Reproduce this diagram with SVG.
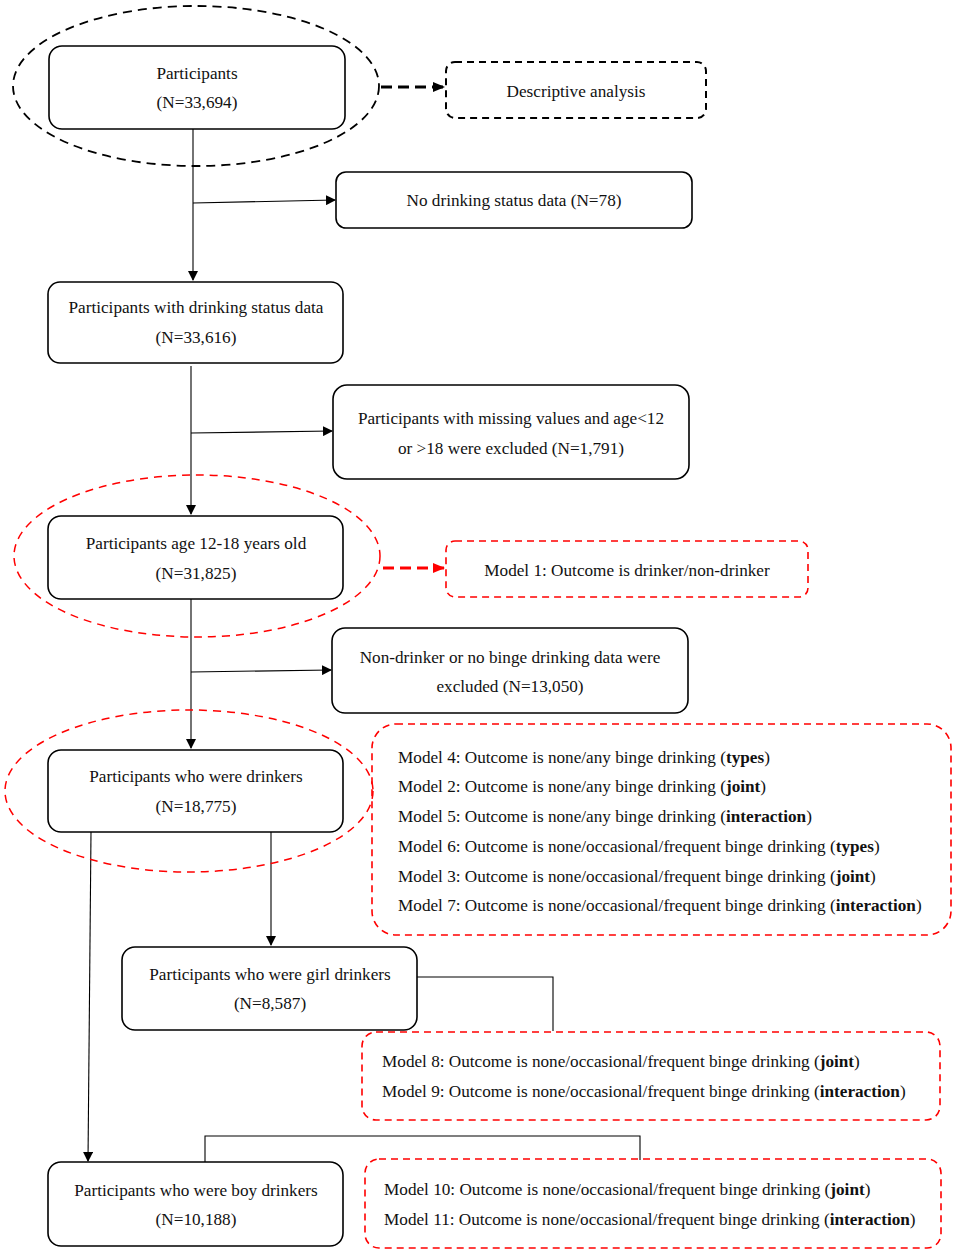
<svg xmlns="http://www.w3.org/2000/svg" width="957" height="1253" viewBox="0 0 957 1253">
<defs>
<marker id="ab" markerWidth="10" markerHeight="10" refX="9" refY="5" orient="auto" markerUnits="userSpaceOnUse"><path d="M0,0 L10,5 L0,10 z" fill="#000"/></marker>
<marker id="ar" markerWidth="12" markerHeight="10" refX="11" refY="5" orient="auto" markerUnits="userSpaceOnUse"><path d="M0,0 L12,5 L0,10 z" fill="#f00"/></marker>
<marker id="ak" markerWidth="12" markerHeight="10" refX="11" refY="5" orient="auto" markerUnits="userSpaceOnUse"><path d="M0,0 L12,5 L0,10 z" fill="#000"/></marker>
</defs>
<style>
text{font-family:"Liberation Serif","Times New Roman",serif;font-size:17.2px;fill:#111;}
.c{text-anchor:middle;}
.box{fill:#fff;stroke:#000;stroke-width:1.6;}
.dbox{fill:none;stroke:#000;stroke-width:2;stroke-dasharray:7,5;}
.rbox{fill:none;stroke:#f00;stroke-width:1.6;stroke-dasharray:7,5;}
.ell{fill:none;stroke:#000;stroke-width:1.8;stroke-dasharray:9,6;}
.rell{fill:none;stroke:#f00;stroke-width:1.5;stroke-dasharray:8,6;}
.ln{fill:none;stroke:#000;stroke-width:1.1;}
.b{font-weight:bold;}
</style>
<g id="connectors">
<line class="ln" x1="193" y1="129" x2="193" y2="280" marker-end="url(#ab)"/>
<line class="ln" x1="193" y1="203" x2="335" y2="200" marker-end="url(#ab)"/>
<line class="ln" x1="191" y1="366" x2="191" y2="514" marker-end="url(#ab)"/>
<line class="ln" x1="191" y1="433" x2="332" y2="431" marker-end="url(#ab)"/>
<line class="ln" x1="191" y1="599" x2="191" y2="748" marker-end="url(#ab)"/>
<line class="ln" x1="191" y1="672" x2="331" y2="670" marker-end="url(#ab)"/>
<line class="ln" x1="91" y1="832" x2="88" y2="1161" marker-end="url(#ab)"/>
<line class="ln" x1="271" y1="832" x2="271" y2="945" marker-end="url(#ab)"/>
<polyline class="ln" points="417,977 553,977 553,1031"/>
<polyline class="ln" points="205,1162 205,1136 640,1136 640,1160"/>
<line x1="381" y1="87" x2="444" y2="87" stroke="#000" stroke-width="2.8" stroke-dasharray="11,6" marker-end="url(#ak)"/>
<line x1="383" y1="568" x2="444" y2="568" stroke="#f00" stroke-width="2.8" stroke-dasharray="11,6" marker-end="url(#ar)"/>
</g>
<g id="ellipse1"><ellipse class="ell" cx="196" cy="86" rx="183" ry="80"/></g>
<g id="n1"><rect class="box" x="49" y="46" width="296" height="83" rx="13"/>
<text class="c" x="197" y="79">Participants</text><text class="c" x="197" y="108">(N=33,694)</text></g>
<g id="n_desc"><rect class="dbox" x="446" y="62" width="260" height="56" rx="9"/>
<text class="c" x="576" y="97">Descriptive analysis</text></g>
<g id="n_nodrink"><rect class="box" x="336" y="172" width="356" height="56" rx="10"/>
<text class="c" x="514" y="206">No drinking status data (N=78)</text></g>
<g id="n2"><rect class="box" x="48" y="282" width="295" height="81" rx="12"/>
<text class="c" x="196" y="313">Participants with drinking status data</text><text class="c" x="196" y="343">(N=33,616)</text></g>
<g id="n_missing"><rect class="box" x="333" y="385" width="356" height="94" rx="14"/>
<text class="c" x="511" y="424">Participants with missing values and age&lt;12</text><text class="c" x="511" y="454">or &gt;18 were excluded (N=1,791)</text></g>
<g id="ellipse2"><ellipse class="rell" cx="197" cy="556" rx="183" ry="81"/></g>
<g id="n3"><rect class="box" x="48" y="516" width="295" height="83" rx="13"/>
<text class="c" x="196" y="549">Participants age 12-18 years old</text><text class="c" x="196" y="579">(N=31,825)</text></g>
<g id="n_model1"><rect class="rbox" x="446" y="541" width="362" height="56" rx="9"/>
<text class="c" x="627" y="576">Model 1: Outcome is drinker/non-drinker</text></g>
<g id="n_nondrinker"><rect class="box" x="332" y="628" width="356" height="85" rx="13"/>
<text class="c" x="510" y="663">Non-drinker or no binge drinking data were</text><text class="c" x="510" y="692">excluded (N=13,050)</text></g>
<g id="ellipse3"><ellipse class="rell" cx="189" cy="791" rx="184" ry="81"/></g>
<g id="n4"><rect class="box" x="48" y="750" width="295" height="82" rx="13"/>
<text class="c" x="196" y="782">Participants who were drinkers</text><text class="c" x="196" y="812">(N=18,775)</text></g>
<g id="n_models_all"><rect class="rbox" x="372" y="724" width="579" height="211" rx="24"/>
<text x="398" y="763">Model 4: Outcome is none/any binge drinking (<tspan class="b">types</tspan>)</text>
<text x="398" y="792">Model 2: Outcome is none/any binge drinking (<tspan class="b">joint</tspan>)</text>
<text x="398" y="822">Model 5: Outcome is none/any binge drinking (<tspan class="b">interaction</tspan>)</text>
<text x="398" y="852">Model 6: Outcome is none/occasional/frequent binge drinking (<tspan class="b">types</tspan>)</text>
<text x="398" y="882">Model 3: Outcome is none/occasional/frequent binge drinking (<tspan class="b">joint</tspan>)</text>
<text x="398" y="911">Model 7: Outcome is none/occasional/frequent binge drinking (<tspan class="b">interaction</tspan>)</text></g>
<g id="n_girl"><rect class="box" x="122" y="947" width="295" height="83" rx="13"/>
<text class="c" x="270" y="980">Participants who were girl drinkers</text><text class="c" x="270" y="1009">(N=8,587)</text></g>
<g id="n_models_girl"><rect class="rbox" x="362" y="1032" width="578" height="88" rx="14"/>
<text x="382" y="1067">Model 8: Outcome is none/occasional/frequent binge drinking (<tspan class="b">joint</tspan>)</text>
<text x="382" y="1097">Model 9: Outcome is none/occasional/frequent binge drinking (<tspan class="b">interaction</tspan>)</text></g>
<g id="n_boy"><rect class="box" x="48" y="1162" width="295" height="84" rx="13"/>
<text class="c" x="196" y="1196">Participants who were boy drinkers</text><text class="c" x="196" y="1225">(N=10,188)</text></g>
<g id="n_models_boy"><rect class="rbox" x="365" y="1159" width="576" height="89" rx="14"/>
<text x="384" y="1195">Model 10: Outcome is none/occasional/frequent binge drinking (<tspan class="b">joint</tspan>)</text>
<text x="384" y="1225">Model 11: Outcome is none/occasional/frequent binge drinking (<tspan class="b">interaction</tspan>)</text></g>
</svg>
